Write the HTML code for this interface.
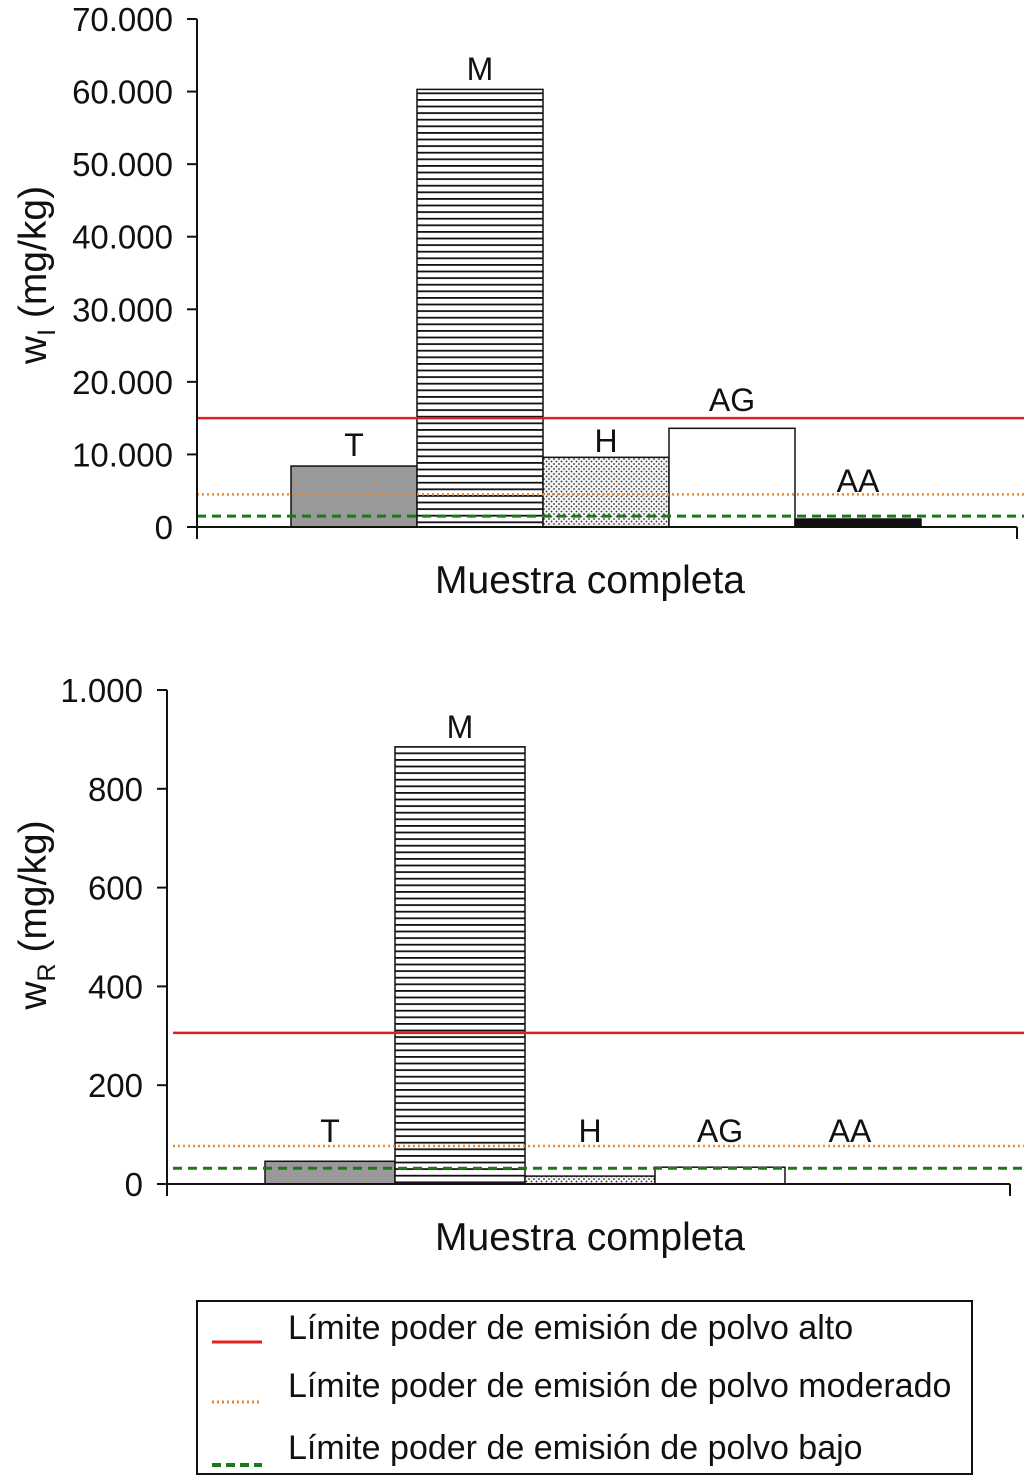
<!DOCTYPE html>
<html><head><meta charset="utf-8"><style>
body{margin:0;background:#fff}
svg{display:block;font-family:"Liberation Sans",sans-serif}
</style></head><body>
<svg id="s" width="1024" height="1484">
<defs>
<pattern id="stripes" width="8" height="6.6" patternUnits="userSpaceOnUse"><rect width="8" height="6.6" fill="#fff"/><rect y="0" width="8" height="1.8" fill="#111"/></pattern>
<pattern id="dots" width="5" height="5" patternUnits="userSpaceOnUse"><rect width="5" height="5" fill="#f4f4f4"/><circle cx="1.5" cy="1.5" r="0.9" fill="#333"/><circle cx="4" cy="4" r="0.9" fill="#333"/></pattern>
</defs>
<g id="top"></g>
<g id="bot"></g>
<g>
<rect x="197" y="1301" width="775" height="173" fill="#fff" stroke="#111" stroke-width="2"/>
<line x1="212" y1="1342" x2="262" y2="1342" stroke="#e02020" stroke-width="3"/>
<line x1="212" y1="1402" x2="262" y2="1402" stroke="#e88a30" stroke-width="3" stroke-dasharray="2,3"/>
<line x1="212" y1="1465" x2="262" y2="1465" stroke="#1a7a1a" stroke-width="4" stroke-dasharray="9,5"/>
<text x="288" y="1339" font-size="34" fill="#111">Límite poder de emisión de polvo alto</text>
<text x="288" y="1397" font-size="34" fill="#111">Límite poder de emisión de polvo moderado</text>
<text x="288" y="1459" font-size="34" fill="#111">Límite poder de emisión de polvo bajo</text>
</g>
</svg>
<script>
const categories=["T","M","H","AG","AA"];
const topValues=[8400,60300,9600,13600,1100];
const topTicks=[0,10000,20000,30000,40000,50000,60000,70000];
const topTickLabels=["0","10.000","20.000","30.000","40.000","50.000","60.000","70.000"];
const topLimits=[15000,4500,1500];
const botValues=[46,885,16,34,0];
const botTicks=[0,200,400,600,800,1000];
const botTickLabels=["0","200","400","600","800","1.000"];
const botLimits=[306,77,32];
const fills=["#999","url(#stripes)","url(#dots)","#fff","#111"];
const NS="http://www.w3.org/2000/svg";
function mk(p,t,a){const e=document.createElementNS(NS,t);for(const k in a)e.setAttribute(k,a[k]);p.appendChild(e);return e;}
function chart(g,cfg){
  const y=v=>cfg.y0-(v/cfg.max)*(cfg.y0-cfg.y1);
  cfg.values.forEach((v,i)=>{
    const x=cfg.bx+i*cfg.bw;
    const r=mk(g,'rect',{x:x,y:y(v),width:cfg.bw,height:cfg.y0-y(v),fill:fills[i],stroke:'#111','stroke-width':1.5});
    
    
    const ly=cfg.labelY[i];
    const t=mk(g,'text',{x:x+cfg.bw/2,y:ly,'font-size':32,'text-anchor':'middle',fill:'#111'});
    t.textContent=categories[i];
    
    
  });
  const styles=[{stroke:'#e02020','stroke-width':2.5},{stroke:'#e88a30','stroke-width':2.5,'stroke-dasharray':'2,3'},{stroke:'#1a7a1a','stroke-width':3,'stroke-dasharray':'9,6'}];
  const names=['limit-alto','limit-moderado','limit-bajo'];
  cfg.limits.forEach((v,i)=>{
    const l=mk(g,'line',Object.assign({x1:cfg.lx,x2:1024,y1:y(v),y2:y(v)},styles[i]));
    
    
  });
  mk(g,'line',{x1:cfg.ax,x2:cfg.ax,y1:cfg.y1,y2:cfg.y0+12,stroke:'#111','stroke-width':2});
  mk(g,'line',{x1:cfg.ax-10,x2:cfg.xe,y1:cfg.y0,y2:cfg.y0,stroke:'#111','stroke-width':2});
  mk(g,'line',{x1:cfg.xe,x2:cfg.xe,y1:cfg.y0,y2:cfg.y0+12,stroke:'#111','stroke-width':2});
  cfg.ticks.forEach((v,i)=>{
    mk(g,'line',{x1:cfg.ax-10,x2:cfg.ax,y1:y(v),y2:y(v),stroke:'#111','stroke-width':2});
    const t=mk(g,'text',{x:cfg.ax-24,y:y(v)+12,'font-size':33,'text-anchor':'end',fill:'#111'});
    t.textContent=cfg.tickLabels[i];
    
    
  });
  const xt=mk(g,'text',{x:590,y:cfg.y0+66,'font-size':39,'text-anchor':'middle',fill:'#111'});
  xt.textContent='Muestra completa';
  
  
  const yt=mk(g,'text',{transform:`translate(${cfg.ytx},${cfg.yty}) rotate(-90)`,'font-size':39,'text-anchor':'middle',fill:'#111'});
  yt.innerHTML='w<tspan font-size="25" dy="9">'+cfg.sub+'</tspan><tspan dy="-9"> (mg/kg)</tspan>';
  
  
}
chart(document.getElementById('top'),{values:topValues,ticks:topTicks,tickLabels:topTickLabels,limits:topLimits,max:70000,y0:527,y1:19,ax:197,xe:1017,bx:291,bw:126,lx:197,sub:'I',ytx:46,yty:275,labelY:[456,80,452,411,492]});
chart(document.getElementById('bot'),{values:botValues,ticks:botTicks,tickLabels:botTickLabels,limits:botLimits,max:1000,y0:1184,y1:690,ax:167,xe:1010,bx:265,bw:130,lx:173,sub:'R',ytx:46,yty:915,labelY:[1142,738,1142,1142,1142]});
</script>
</body></html>
